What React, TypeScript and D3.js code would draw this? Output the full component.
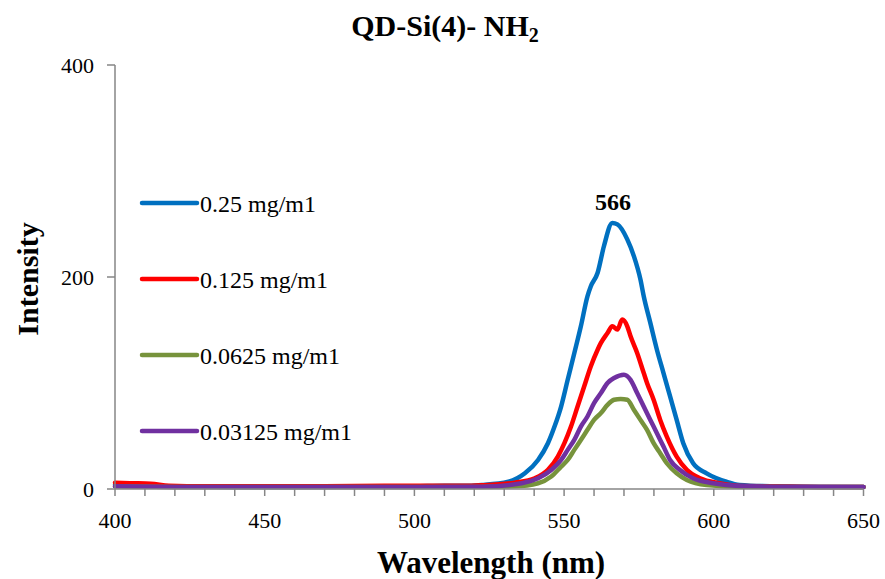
import React from "react";
import * as d3 from "d3";

const W = 885;
const H = 579;

const seriesNames = ["0.25 mg/m1", "0.125 mg/m1", "0.0625 mg/m1", "0.03125 mg/m1"];
const seriesColors = ["#0070C0", "#FF0000", "#77933C", "#7030A0"];

const xTicks = [400, 450, 500, 550, 600, 650];
const yTicks = [0, 200, 400];

// wavelength (nm), intensity
const blueNm = [400, 410, 420, 440, 460, 480, 500, 510, 516, 522.5, 531.4, 536.9, 541.3, 544.6, 546.8, 549.0, 551.2, 553.4, 555.6, 557.8, 558.9, 561.2, 563.3, 566.1, 567.8, 571.1, 573.3, 575.5, 576.6, 578.8, 581.0, 583.2, 585.4, 587.6, 589.8, 593.1, 597.6, 604.2, 608.6, 620, 635, 650];
const blueVal = [4, 3, 2.5, 2, 2, 2.2, 2.5, 3, 3, 3.8, 6.9, 14.8, 27.4, 43.2, 58.9, 77.8, 103, 128, 153.5, 181.8, 191, 204, 229, 251, 249.6, 235.5, 219.7, 197.6, 181.8, 156.7, 131.4, 109.4, 87.3, 65.2, 43.2, 24.3, 14.8, 6.9, 3.8, 2.5, 2, 2];

const redNm = [400, 405, 412, 418, 430, 450, 470, 490, 500, 510, 516, 522.5, 533.6, 540.2, 544.6, 547.9, 550.1, 552.3, 554.5, 556.7, 558.9, 561.2, 562.3, 564.5, 566.1, 567.8, 569.4, 571.1, 572.2, 574.4, 576.6, 577.7, 579.9, 582.1, 584.3, 587.6, 591.0, 595.4, 602.0, 608.6, 620, 635, 650];
const redVal = [6, 5.5, 5, 3, 2.5, 2.5, 2.5, 3, 3, 3, 3, 3.5, 6, 10.1, 18, 30.6, 43.2, 58.9, 77.8, 96.7, 115.6, 131.4, 137.8, 147.2, 153.5, 150.4, 159.8, 153.5, 144, 128.3, 109.4, 100, 84.2, 65.2, 49.5, 30.6, 18, 10.1, 5.4, 2.8, 2.5, 2, 2];

const greenNm = [400, 420, 450, 480, 500, 522, 533.6, 541.3, 545.7, 549.0, 551.2, 553.4, 555.6, 557.8, 560.0, 562.3, 564.5, 566.7, 568.9, 571.1, 573.3, 575.5, 577.7, 579.9, 582.1, 584.3, 587.6, 591.0, 597.6, 608.6, 630, 650];
const greenVal = [2.5, 2, 2, 2, 2, 2, 2.5, 5.4, 11.7, 21.1, 27.4, 36.9, 46.3, 55.8, 65.2, 71.6, 79.4, 84.2, 85, 84.2, 74.7, 65.2, 55.8, 43.2, 33.8, 24.3, 14.8, 8.5, 3.8, 2.2, 2, 2];

const purpleNm = [400, 420, 450, 480, 500, 522.5, 535.8, 541.3, 545.7, 549.0, 551.2, 553.4, 555.6, 557.8, 560.0, 562.3, 564.5, 566.7, 570.0, 572.2, 574.4, 576.6, 578.8, 581.0, 583.2, 585.4, 588.7, 593.1, 599.8, 608.6, 620, 650];
const purpleVal = [2.5, 2, 2, 2, 2, 2.2, 5.4, 10.1, 18, 27.4, 36.9, 46.3, 58.9, 68.4, 81, 90.5, 100, 104.7, 107.8, 103, 90.5, 77.8, 65.2, 52.7, 40, 27.4, 18, 10.1, 5.4, 2.8, 2.2, 2];

const allNm = [blueNm, redNm, greenNm, purpleNm];
const allVal = [blueVal, redVal, greenVal, purpleVal];

const peakLabel = "566";
const peakNm = 566;
const peakVal = 251;

const FONT = "'Liberation Serif', 'Times New Roman', serif";

export default function App() {
  const left = 115;
  const right = 863.5;
  const top = 65;
  const bottom = 489;

  const x = d3.scaleLinear().domain([400, 650]).range([left, right]);
  const y = d3.scaleLinear().domain([0, 400]).range([bottom, top]);

  const line = d3
    .line<[number, number]>()
    .x((d) => x(d[0]))
    .y((d) => y(d[1]))
    .curve(d3.curveMonotoneX);

  const minorTicks = d3.range(400, 651, 10);
  const axisColor = "#868686";

  const legendY = [203, 279, 355, 431];

  return (
    <svg
      width={W}
      height={H}
      style={{ position: "absolute", left: 0, top: 0, background: "#fff" }}
      fontFamily={FONT}
    >
      <rect x={0} y={0} width={W} height={H} fill="#fff" />
      {/* title */}
      <text x={445} y={36} textAnchor="middle" fontSize={30} fontWeight="bold" fill="#000">
        QD-Si(4)-  NH
        <tspan fontSize={20} dy={6}>2</tspan>
      </text>

      {/* series lines */}
      {allNm.map((nm, i) => {
        const pts: [number, number][] = nm.map((v, j) => [v, allVal[i][j]]);
        return (
          <path
            key={i}
            d={line(pts) || ""}
            fill="none"
            stroke={seriesColors[i]}
            strokeWidth={4.5}
            strokeLinejoin="round"
            strokeLinecap="round"
          />
        );
      })}

      {/* axes */}
      <line x1={left} x2={left} y1={top} y2={bottom} stroke={axisColor} strokeWidth={1.5} />
      <line x1={left} x2={right} y1={bottom} y2={bottom} stroke={axisColor} strokeWidth={1.5} />
      {yTicks.map((t) => (
        <g key={"y" + t}>
          <line x1={left - 8} x2={left} y1={y(t)} y2={y(t)} stroke={axisColor} strokeWidth={1.5} />
          <text x={94} y={y(t) + 7.5} textAnchor="end" fontSize={22} fill="#000">
            {t}
          </text>
        </g>
      ))}
      {minorTicks.map((t) => (
        <line key={"xm" + t} x1={x(t)} x2={x(t)} y1={bottom} y2={bottom + 7} stroke={axisColor} strokeWidth={1.5} />
      ))}
      {xTicks.map((t) => (
        <text key={"xl" + t} x={x(t)} y={528} textAnchor="middle" fontSize={22} fill="#000">
          {t}
        </text>
      ))}

      {/* axis titles */}
      <text x={491} y={573} textAnchor="middle" fontSize={31} fontWeight="bold" fill="#000">
        Wavelength (nm)
      </text>
      <text
        transform={`translate(38,279) rotate(-90)`}
        textAnchor="middle"
        fontSize={30}
        fontWeight="bold"
        fill="#000"
      >
        Intensity
      </text>

      {/* peak label */}
      <text x={x(peakNm) + 1} y={y(peakVal) - 13} textAnchor="middle" fontSize={24} fontWeight="bold" fill="#000">
        {peakLabel}
      </text>

      {/* legend */}
      {seriesNames.map((n, i) => (
        <g key={"lg" + i}>
          <line
            x1={142}
            x2={197}
            y1={legendY[i]}
            y2={legendY[i]}
            stroke={seriesColors[i]}
            strokeWidth={4.5}
            strokeLinecap="round"
          />
          <text x={200} y={legendY[i] + 9} fontSize={24} fill="#000">
            {n}
          </text>
        </g>
      ))}
    </svg>
  );
}
